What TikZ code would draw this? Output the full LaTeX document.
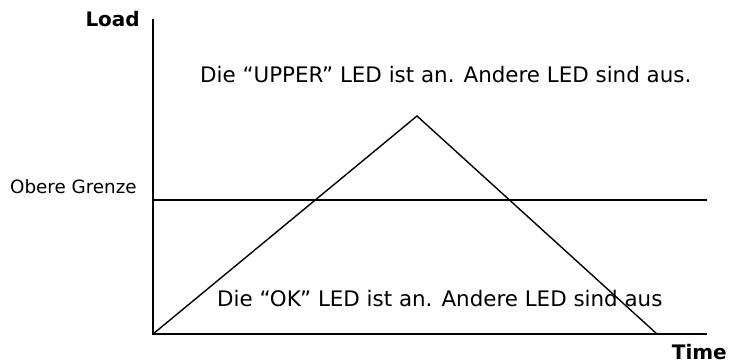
\documentclass[tikz,border=0pt]{standalone}
\usepackage{fontspec}
\setmainfont{DejaVu Sans}
\usetikzlibrary{positioning}

\begin{document}
\begin{tikzpicture}[x=1pt,y=-1pt]
    \tikzset{axis/.style={line width=2pt, line cap=rect},
      curve/.style={line width=1.4pt, line join=miter},
      axislabel/.style={font=\bfseries\fontsize{20}{22}\selectfont, inner sep=0pt},
      zonetext/.style={font=\fontsize{21.4}{24}\selectfont, inner sep=0pt},
      limittext/.style={font=\fontsize{18.3}{21}\selectfont, inner sep=0pt}
    }

    \useasboundingbox (0,0) rectangle (732,364);

    \coordinate (O) at (153,334);
    \coordinate (Ytop) at (153,20);
    \coordinate (Xend) at (706,334);
    \coordinate (LimA) at (153,200);
    \coordinate (LimB) at (706,200);
    \coordinate (Peak) at (417,116);
    \coordinate (Fall) at (657,334);

    \node[axislabel, anchor=base east] (load) at (140,27) {Load};
    \node[axislabel, anchor=base east] (time) at (727,359) {Time};
    \node[limittext, anchor=base west] (limit) at (10,193) {Obere Grenze};
    \node[zonetext, anchor=base west] (upper) at (200,82) {Die “UPPER” LED ist an. Andere LED sind aus.};
    \node[zonetext, anchor=base west] (ok) at (217,306) {Die “OK” LED ist an. Andere LED sind aus};

    \draw[axis] (Ytop) -- (O) -- (Xend);
    \draw[axis] (LimA) -- (LimB);
    \draw[curve] (O) -- (Peak) -- (Fall);
\end{tikzpicture}
\end{document}
